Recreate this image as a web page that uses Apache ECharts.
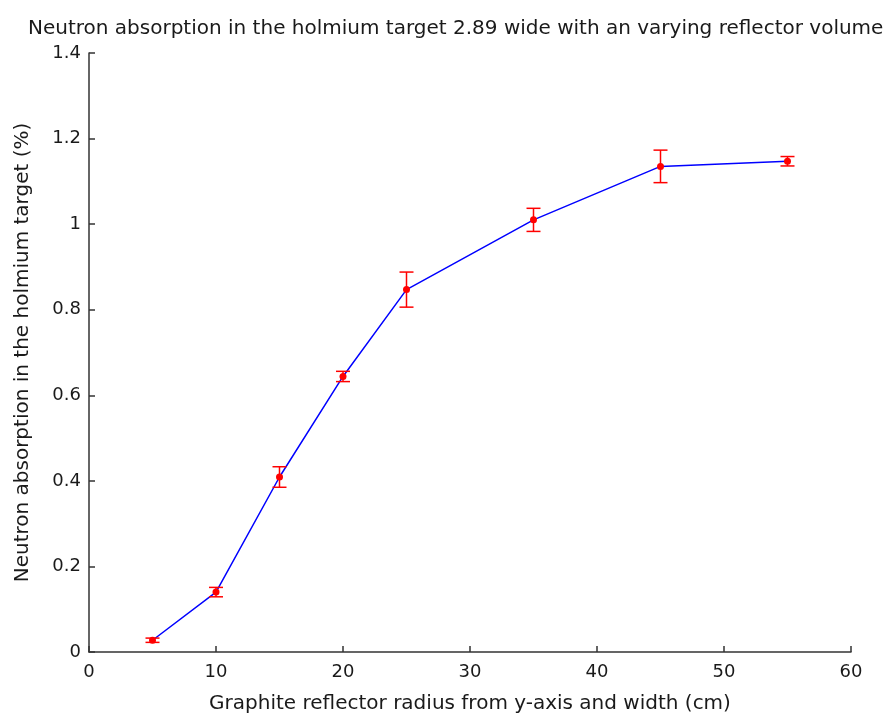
<!DOCTYPE html>
<html>
<head>
<meta charset="utf-8">
<script src="https://cdn.jsdelivr.net/npm/echarts@6/dist/echarts.min.js"></script>
<style>
  html, body { margin: 0; padding: 0; background: #fff; }
  #chart { width: 888px; height: 713px; }
</style>
</head>
<body>
<div id="chart"></div>
<script>
// Reflector radius (cm) and neutron absorption in the holmium target (%)
const radius = [5, 10, 15, 20, 25, 35, 45, 55];
const absorption = [0.0275, 0.140, 0.409, 0.644, 0.847, 1.010, 1.135, 1.147];
const errorHalf = [0.005, 0.011, 0.024, 0.012, 0.041, 0.027, 0.038, 0.011];

const xTicks = [0, 10, 20, 30, 40, 50, 60];
const yTicks = [0, 0.2, 0.4, 0.6, 0.8, 1.0, 1.2, 1.4];

const FONT = '"DejaVu Sans", "Liberation Sans", Arial, sans-serif';
const TEXT = '#1a1a1a';

const lineData = radius.map((r, i) => [r, absorption[i]]);
const errData = radius.map((r, i) => [r, absorption[i] - errorHalf[i], absorption[i] + errorHalf[i]]);

function renderErrorBar(params, api) {
  const x = api.value(0);
  const lo = api.coord([x, api.value(1)]);
  const hi = api.coord([x, api.value(2)]);
  const cap = 7;
  const style = { stroke: '#ff0000', lineWidth: 1.5 };
  return {
    type: 'group',
    children: [
      { type: 'line', shape: { x1: lo[0], y1: lo[1], x2: hi[0], y2: hi[1] }, style },
      { type: 'line', shape: { x1: lo[0] - cap, y1: lo[1], x2: lo[0] + cap, y2: lo[1] }, style },
      { type: 'line', shape: { x1: hi[0] - cap, y1: hi[1], x2: hi[0] + cap, y2: hi[1] }, style }
    ]
  };
}

const chart = echarts.init(document.getElementById('chart'), null, { renderer: 'canvas' });
chart.setOption({
  backgroundColor: '#ffffff',
  animation: false,
  title: {
    text: 'Neutron absorption in the holmium target 2.89 wide with an varying reflector volume',
    left: 23,
    top: 14,
    padding: 5,
    textStyle: { fontFamily: FONT, fontSize: 20, fontWeight: 'normal', color: TEXT }
  },
  grid: {
    left: 89, right: 37, top: 53, bottom: 61,
    containLabel: false,
    outerBoundsMode: 'none'
  },
  xAxis: {
    type: 'value',
    min: xTicks[0],
    max: xTicks[xTicks.length - 1],
    interval: 10,
    name: 'Graphite reflector radius from y-axis and width (cm)',
    nameLocation: 'middle',
    nameGap: 42,
    nameTextStyle: { fontFamily: FONT, fontSize: 20, color: TEXT },
    axisLine: { lineStyle: { color: '#333', width: 1.5 } },
    axisTick: { inside: true, length: 6, lineStyle: { color: '#333', width: 1.5 } },
    axisLabel: { fontFamily: FONT, fontSize: 18, color: TEXT, margin: 11 },
    splitLine: { show: false }
  },
  yAxis: {
    type: 'value',
    min: yTicks[0],
    max: yTicks[yTicks.length - 1],
    interval: 0.2,
    name: 'Neutron absorption in the holmium target (%)',
    nameLocation: 'middle',
    nameGap: 56,
    nameTextStyle: { fontFamily: FONT, fontSize: 20, color: TEXT },
    axisLine: { show: true, lineStyle: { color: '#333', width: 1.5 } },
    axisTick: { show: true, inside: true, length: 6, lineStyle: { color: '#333', width: 1.5 } },
    axisLabel: {
      fontFamily: FONT, fontSize: 18, color: TEXT, margin: 8,
      formatter: v => String(Math.round(v * 10) / 10)
    },
    splitLine: { show: false }
  },
  series: [
    {
      type: 'line',
      data: lineData,
      symbol: 'circle',
      symbolSize: 7,
      itemStyle: { color: '#ff0000' },
      lineStyle: { color: '#0000ff', width: 1.5 },
      z: 3
    },
    {
      type: 'custom',
      data: errData,
      renderItem: renderErrorBar,
      encode: { x: 0, y: [1, 2] },
      z: 4
    }
  ]
});
</script>
</body>
</html>
